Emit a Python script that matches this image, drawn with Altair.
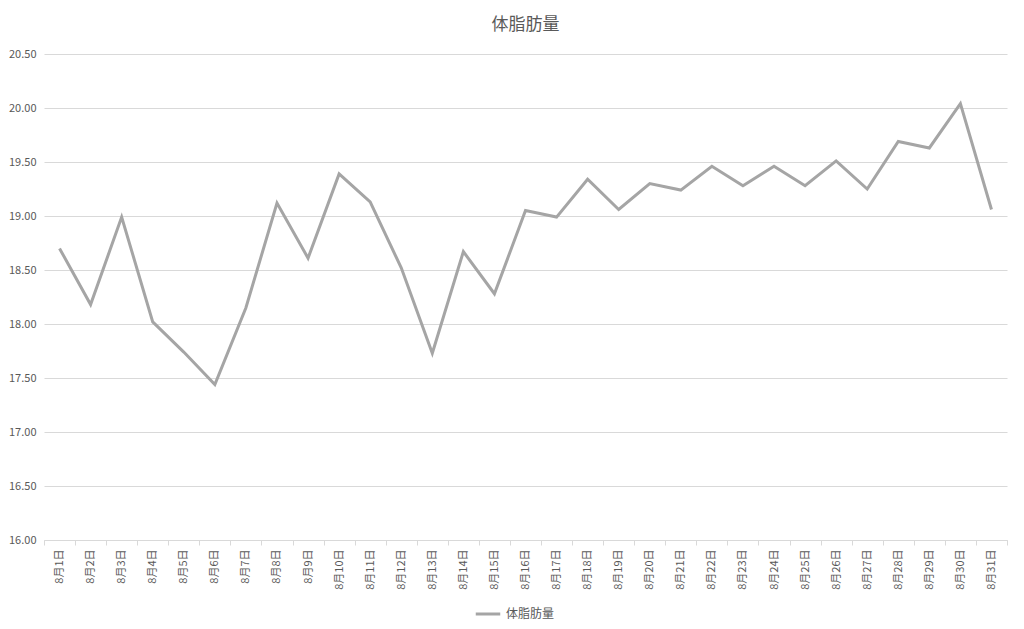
import altair as alt
import pandas as pd

days = [f"8月{i}日" for i in range(1, 32)]
values = [18.70, 18.18, 18.99, 18.02, 17.74, 17.44, 18.15, 19.12, 18.61, 19.39,
          19.13, 18.52, 17.73, 18.67, 18.28, 19.05, 18.99, 19.34, 19.06, 19.30,
          19.24, 19.46, 19.28, 19.46, 19.28, 19.51, 19.25, 19.69, 19.63, 20.04,
          19.06]
series = "体脂肪量"

df = pd.DataFrame({"day": days, "value": values, "series": series})

FONT = "Noto Sans CJK JP"
TXT = "#595959"

chart = alt.Chart(df).mark_line(strokeWidth=3).encode(
    x=alt.X("day:N", sort=days, bandPosition=0.5,
            scale=alt.Scale(type="band", paddingInner=0, paddingOuter=0),
            axis=alt.Axis(title=None, labelAngle=-90, labelAlign="right",
                          labelBaseline="middle", labelFontSize=11,
                          labelColor=TXT, labelFont=FONT, labelPadding=4,
                          domainColor="#D9D9D9", tickColor="#D9D9D9",
                          tickBand="extent", tickSize=5, grid=False)),
    y=alt.Y("value:Q",
            scale=alt.Scale(domain=[16, 20.5], zero=False, nice=False),
            axis=alt.Axis(title=None, values=[16 + 0.5 * i for i in range(10)],
                          format=".2f", labelFontSize=11, labelColor=TXT,
                          labelFont=FONT, domain=False, ticks=False,
                          labelPadding=8, gridColor="#D9D9D9", gridWidth=1)),
    color=alt.Color("series:N",
                    scale=alt.Scale(range=["#A5A5A5"]),
                    legend=alt.Legend(title=None, orient="none", legendX=430,
                                      legendY=546, symbolType="stroke",
                                      symbolStrokeWidth=3, symbolSize=600,
                                      labelFontSize=12, labelColor=TXT,
                                      labelFont=FONT)),
).properties(
    width=963,
    height=486,
    title=alt.TitleParams(series, fontSize=17, font=FONT, color=TXT,
                          fontWeight="normal", anchor="middle", offset=14),
    padding={"left": 36, "top": 46, "right": 5, "bottom": 80},
    autosize=alt.AutoSizeParams(type="none"),
).configure_view(stroke=None)

chart.save("out.html", embed_options={"renderer": "svg", "actions": False})
